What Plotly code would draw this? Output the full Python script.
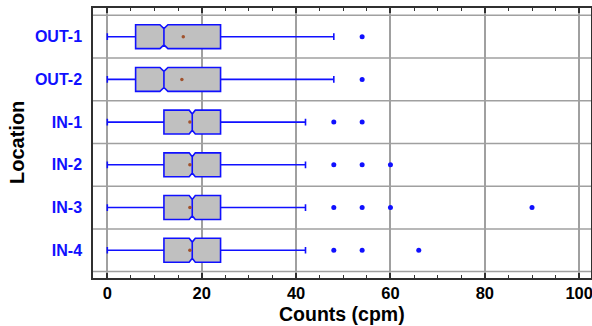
import plotly.graph_objects as go

# ---- data ----
locations = ["OUT-1", "OUT-2", "IN-1", "IN-2", "IN-3", "IN-4"]
lower_whisker = [0, 0, 0, 0, 0, 0]
q1_vals = [6, 6, 12, 12, 12, 12]
median_vals = [12, 12, 18, 18, 18, 18]
q3_vals = [24, 24, 24, 24, 24, 24]
upper_whisker = [48, 48, 42, 42, 42, 42]
mean_vals = [16.1, 15.8, 17.5, 17.5, 17.5, 17.5]
notch_half = [0.85, 0.85, 0.65, 0.65, 0.65, 0.65]
outliers = [
    [54],
    [54],
    [48, 54],
    [48, 54, 60],
    [48, 54, 60, 90],
    [48, 54, 66],
]
x_ticks = [0, 20, 40, 60, 80, 100]

FONT = "Liberation Sans, Arial, sans-serif"
BLUE = "#1010ff"
GRID = "#a0a0a0"

fig = go.Figure()

for i, loc in enumerate(locations):
    fig.add_trace(go.Box(
        y=[loc], orientation="h",
        q1=[q1_vals[i]], median=[median_vals[i]], q3=[q3_vals[i]],
        lowerfence=[lower_whisker[i]], upperfence=[upper_whisker[i]],
        notchspan=[notch_half[i]], notched=True, notchwidth=0.16,
        whiskerwidth=0.28,
        fillcolor="#c0c0c0",
        line=dict(color=BLUE, width=1.6),
        boxpoints=False, showlegend=False, hoverinfo="skip",
    ))
    fig.add_trace(go.Scatter(
        x=outliers[i], y=[loc] * len(outliers[i]), mode="markers",
        marker=dict(color=BLUE, size=5, line=dict(width=0)),
        showlegend=False, hoverinfo="skip",
    ))
    fig.add_trace(go.Scatter(
        x=[mean_vals[i]], y=[loc], mode="markers",
        marker=dict(color="#a0522d", size=3.5, line=dict(width=0)),
        showlegend=False, hoverinfo="skip",
    ))

shapes = []
for k in range(len(locations) + 1):
    shapes.append(dict(type="line", xref="paper", yref="y", x0=0, x1=1,
                       y0=k - 0.5, y1=k - 0.5, layer="below",
                       line=dict(color=GRID, width=1.5)))

annotations = [
    dict(text="<b>Counts (cpm)</b>", xref="paper", yref="paper",
         x=0.5, y=0, yshift=-36, xanchor="center", yanchor="middle",
         showarrow=False, font=dict(family=FONT, size=19.5, color="black")),
    dict(text="<b>Location</b>", xref="paper", yref="paper",
         x=0, xshift=-76, y=0.5, xanchor="center", yanchor="middle",
         textangle=-90, showarrow=False,
         font=dict(family=FONT, size=20, color="black")),
]

fig.update_layout(
    width=592, height=326,
    margin=dict(l=93, r=1, t=8, b=48),
    paper_bgcolor="white", plot_bgcolor="white",
    boxgap=0.2,
    shapes=shapes,
    annotations=annotations,
    font=dict(family=FONT, size=15, color="black"),
    xaxis=dict(
        automargin=False,
        range=[-3.03, 102.5],
        tickvals=x_ticks, ticktext=[str(v) for v in x_ticks],
        ticklabeloverflow="allow", ticklabelstandoff=-1,
        showgrid=True, gridcolor=GRID, gridwidth=1.5,
        zeroline=False,
        showline=True, linecolor="#303030", linewidth=2, mirror="ticks",
        ticks="inside", ticklen=5, tickwidth=2, tickcolor="#303030",
        minor=dict(dtick=5, tick0=0, ticks="inside", ticklen=3, tickwidth=1,
                   tickcolor="#303030", showgrid=False),
        tickfont=dict(family=FONT, size=16.5, color="black", weight="bold"),
    ),
    yaxis=dict(
        automargin=False,
        type="category", categoryorder="array", categoryarray=locations,
        range=[5.65, -0.672],
        showgrid=False, zeroline=False,
        showline=True, linecolor="#303030", linewidth=1.5, mirror=True,
        ticks="", ticklabelstandoff=6,
        tickfont=dict(family=FONT, size=16, color="#1010ff", weight="bold"),
    ),
)

fig.write_html("out.html", config={"displayModeBar": False},
               post_script="document.body.style.margin='0';")
